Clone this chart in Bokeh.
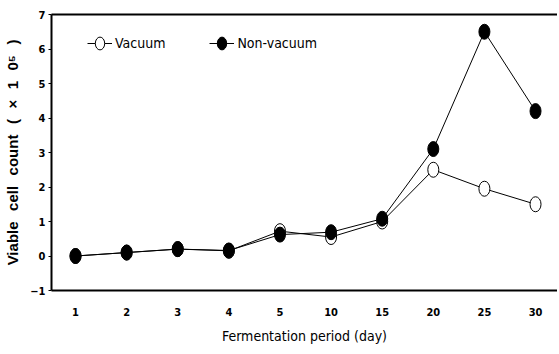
from bokeh.plotting import figure
from bokeh.models import (ColumnDataSource, Range1d, FixedTicker, LinearAxis,
                          Legend, LegendItem)
from bokeh.embed import file_html
from bokeh.resources import INLINE

days = ["1", "2", "3", "4", "5", "10", "15", "20", "25", "30"]
vacuum = [0.0, 0.1, 0.2, 0.15, 0.72, 0.55, 1.0, 2.5, 1.95, 1.5]
non_vacuum = [0.0, 0.1, 0.2, 0.16, 0.62, 0.69, 1.08, 3.1, 6.5, 4.2]
y_ticks = [-1, 0, 1, 2, 3, 4, 5, 6, 7]

COND = "DejaVu Sans Condensed"
GAP = "\u2002\u2009"

xs = list(range(len(days)))
src_v = ColumnDataSource(dict(x=xs, y=vacuum))
src_n = ColumnDataSource(dict(x=xs, y=non_vacuum))

p = figure(width=557, height=346, output_backend="svg", toolbar_location=None,
           x_range=Range1d(-0.47, 9.43), y_range=Range1d(-1, 7),
           min_border_left=51, min_border_right=0, min_border_top=14,
           min_border_bottom=51)
p.outline_line_color = None
p.grid.visible = False

xa = p.xaxis[0]
xa.ticker = FixedTicker(ticks=xs)
xa.major_label_overrides = {i: d for i, d in zip(xs, days)}
xa.major_tick_out = 0
xa.major_tick_in = 0
xa.minor_tick_out = 0
xa.minor_tick_in = 0
xa.axis_line_width = 2
xa.axis_line_color = "black"
xa.major_label_standoff = 17
xa.major_label_text_font = COND
xa.major_label_text_font_style = "bold"
xa.major_label_text_font_size = "11px"
xa.major_label_text_color = "black"
xa.axis_label = "Fermentation period (day)"
xa.axis_label_text_font = COND
xa.axis_label_text_font_style = "normal"
xa.axis_label_text_font_size = "14px"
xa.axis_label_text_color = "black"
xa.axis_label_standoff = 9

ya = p.yaxis[0]
ya.ticker = FixedTicker(ticks=y_ticks)
ya.major_tick_out = 3
ya.major_tick_in = 0
ya.minor_tick_out = 0
ya.minor_tick_in = 0
ya.axis_line_width = 2
ya.axis_line_color = "black"
ya.major_tick_line_color = "black"
ya.major_label_standoff = 3
ya.major_label_text_font = COND
ya.major_label_text_font_style = "bold"
ya.major_label_text_font_size = "11px"
ya.major_label_text_color = "black"
ya.axis_label = GAP.join(["Viable", "cell", "count", "(", "×", "1", "0\u2075", ")"])
ya.axis_label_text_font = "Liberation Sans"
ya.axis_label_text_font_style = "bold"
ya.axis_label_text_font_size = "15px"
ya.axis_label_text_color = "black"
ya.axis_label_standoff = 6

top = LinearAxis(ticker=FixedTicker(ticks=[]), axis_line_width=2, axis_line_color="black",
                 major_tick_out=0, major_tick_in=0, minor_tick_out=0, minor_tick_in=0,
                 major_label_text_font_size="0px")
p.add_layout(top, "above")

lv = p.line("x", "y", source=src_v, line_color="black", line_width=1)
ln = p.line("x", "y", source=src_n, line_color="black", line_width=1)
ev = p.ellipse("x", "y", source=src_v, width=11, height=15,
               width_units="screen", height_units="screen",
               fill_color="white", line_color="black", line_width=1)
en = p.ellipse("x", "y", source=src_n, width=11, height=15,
               width_units="screen", height_units="screen",
               fill_color="black", line_color="black", line_width=1)

legend = Legend(items=[LegendItem(label="Vacuum", renderers=[lv, ev]),
                       LegendItem(label="Non-vacuum", renderers=[ln, en])],
                orientation="horizontal", location=(36, 239),
                border_line_color=None, background_fill_alpha=0,
                label_text_font=COND, label_text_font_size="14px",
                label_text_color="black",
                glyph_width=25, glyph_height=16, label_standoff=3,
                spacing=44, padding=4, margin=0)
p.add_layout(legend, "center")

open("out.html", "w").write(file_html(p, INLINE))
